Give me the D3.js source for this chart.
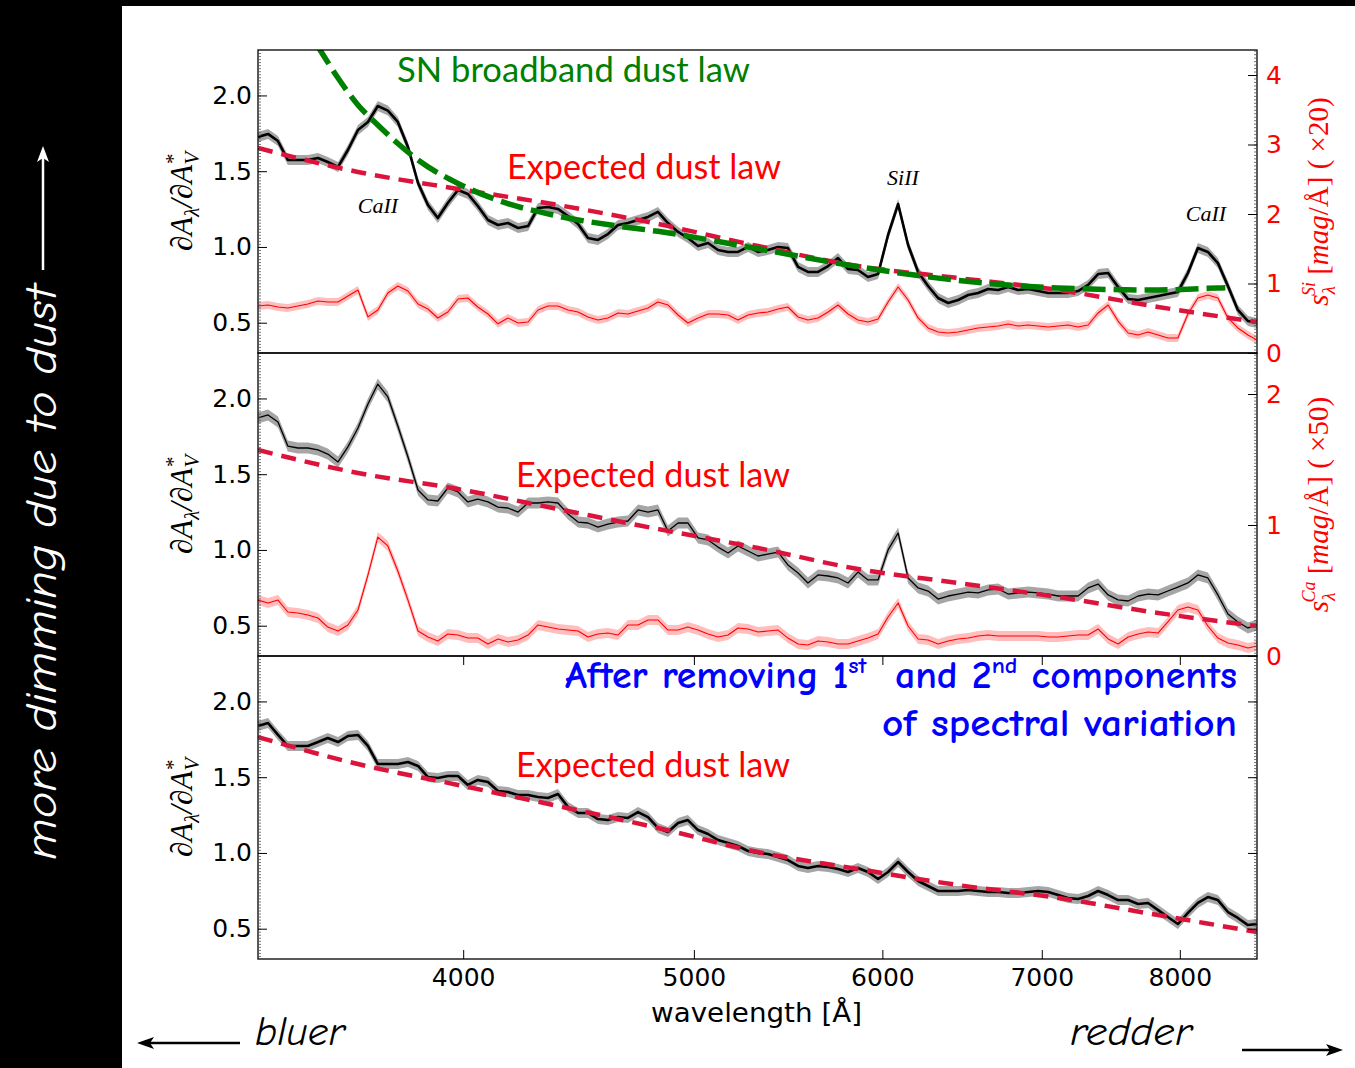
<!DOCTYPE html>
<html><head><meta charset="utf-8">
<script src="https://cdn.jsdelivr.net/npm/d3@7/dist/d3.min.js"></script>
<style>
html,body{margin:0;padding:0;background:#fff;}
svg{display:block;}
text{white-space:pre;}
</style></head>
<body>
<svg id="chart" width="1355" height="1068"></svg>
<script>
// ---------------- DATA ----------------
const wavelengths = [
3280,3312,3344,3376,3409,3442,3476,3509,3544,3578,
3613,3648,3683,3719,3755,3792,3829,3866,3903,3941,
3980,4018,4057,4097,4137,4177,4218,4259,4300,4342,
4384,4427,4470,4513,4557,4601,4646,4691,4737,4783,
4829,4876,4924,4971,5020,5069,5118,5168,5218,5269,
5320,5371,5424,5476,5530,5583,5638,5693,5748,5804,
5860,5917,5975,6033,6092,6151,6211,6271,6332,6394,
6456,6519,6582,6646,6711,6776,6842,6909,6976,7044,
7112,7180,7250,7321,7392,7464,7536,7610,7684,7758,
7834,7908,7985,8063,8141,8220,8300,8381,8462,8545,
8620];

// Panel 1: total dA/dAV and Si component (x20)
const p1Total = [
1.726,1.746,1.699,1.574,1.574,1.574,1.587,1.561,1.528,1.640,
1.772,1.825,1.930,1.900,1.825,1.660,1.422,1.277,1.191,1.290,
1.376,1.350,1.270,1.178,1.145,1.158,1.125,1.138,1.257,1.264,
1.251,1.204,1.151,1.059,1.046,1.085,1.145,1.158,1.178,1.198,
1.231,1.158,1.099,1.059,1.006,1.026,0.980,0.967,0.967,1.000,
0.967,0.980,1.000,0.993,0.868,0.835,0.835,0.874,0.927,0.854,
0.848,0.802,0.821,1.079,1.283,1.013,0.835,0.742,0.663,0.630,
0.650,0.683,0.696,0.722,0.716,0.736,0.716,0.722,0.709,0.696,
0.696,0.696,0.709,0.749,0.821,0.828,0.736,0.656,0.650,0.663,
0.676,0.689,0.703,0.828,0.993,0.967,0.894,0.742,0.584,0.511,
0.498];
const p1Si = [
0.676,0.691,0.662,0.647,0.676,0.705,0.748,0.734,0.734,0.820,
0.906,0.520,0.619,0.863,0.964,0.892,0.705,0.633,0.504,0.590,
0.777,0.791,0.662,0.561,0.420,0.504,0.432,0.446,0.619,0.676,
0.676,0.619,0.590,0.518,0.475,0.504,0.576,0.561,0.604,0.647,
0.734,0.691,0.547,0.432,0.504,0.561,0.561,0.547,0.475,0.547,
0.576,0.590,0.633,0.662,0.518,0.475,0.504,0.590,0.691,0.561,
0.475,0.446,0.489,0.734,0.950,0.763,0.504,0.360,0.302,0.288,
0.302,0.331,0.360,0.374,0.388,0.417,0.388,0.403,0.388,0.374,
0.388,0.403,0.374,0.403,0.576,0.691,0.460,0.288,0.259,0.302,
0.259,0.216,0.216,0.561,0.791,0.835,0.791,0.504,0.360,0.259,
0.187];

// Panel 2: total and Ca component (x50)
const p2Total = [
1.871,1.891,1.845,1.686,1.673,1.673,1.660,1.633,1.581,1.680,
1.805,1.963,2.095,2.010,1.818,1.614,1.396,1.330,1.323,1.409,
1.383,1.317,1.336,1.317,1.283,1.277,1.250,1.310,1.310,1.317,
1.310,1.237,1.184,1.178,1.151,1.171,1.184,1.191,1.264,1.250,
1.264,1.125,1.178,1.178,1.079,1.066,1.019,0.980,1.026,0.993,
0.960,0.973,0.986,0.901,0.848,0.782,0.835,0.828,0.815,0.782,
0.854,0.802,0.802,1.000,1.112,0.815,0.749,0.729,0.676,0.696,
0.709,0.722,0.716,0.736,0.742,0.709,0.716,0.722,0.716,0.709,
0.696,0.696,0.696,0.749,0.775,0.703,0.670,0.663,0.696,0.709,
0.703,0.729,0.755,0.782,0.835,0.815,0.703,0.577,0.524,0.485,
0.505];
const p2Ca = [
0.427,0.405,0.427,0.336,0.328,0.313,0.290,0.221,0.191,0.237,
0.351,0.618,0.908,0.840,0.649,0.427,0.191,0.145,0.115,0.168,
0.160,0.137,0.137,0.092,0.130,0.107,0.122,0.160,0.237,0.221,
0.206,0.198,0.191,0.145,0.168,0.176,0.160,0.237,0.237,0.275,
0.275,0.198,0.198,0.221,0.198,0.168,0.145,0.160,0.214,0.206,
0.183,0.191,0.198,0.137,0.092,0.084,0.115,0.107,0.092,0.092,
0.115,0.137,0.168,0.298,0.405,0.229,0.130,0.122,0.092,0.115,
0.130,0.137,0.153,0.160,0.153,0.153,0.153,0.153,0.153,0.145,
0.145,0.153,0.160,0.160,0.206,0.130,0.092,0.145,0.168,0.183,
0.176,0.260,0.351,0.374,0.351,0.229,0.137,0.099,0.084,0.061,
0.076];

// Panel 3: after removing 1st and 2nd components
const p3Total = [
1.838,1.858,1.779,1.706,1.706,1.706,1.732,1.759,1.732,1.772,
1.779,1.706,1.587,1.587,1.587,1.600,1.574,1.501,1.495,1.508,
1.508,1.449,1.482,1.468,1.409,1.402,1.383,1.383,1.369,1.363,
1.389,1.303,1.264,1.264,1.224,1.217,1.237,1.231,1.270,1.237,
1.165,1.138,1.198,1.217,1.151,1.125,1.085,1.066,1.046,1.013,
1.000,0.993,0.973,0.953,0.914,0.901,0.914,0.907,0.894,0.874,
0.901,0.874,0.828,0.874,0.940,0.874,0.815,0.782,0.749,0.749,
0.749,0.755,0.749,0.742,0.742,0.736,0.736,0.742,0.749,0.742,
0.722,0.703,0.696,0.716,0.749,0.722,0.689,0.689,0.663,0.670,
0.623,0.577,0.531,0.604,0.670,0.709,0.689,0.610,0.571,0.524,
0.531];

// Error band half-widths
const p1TotalErr = 0.033, p1SiErr = 0.058;
const p2TotalErr = 0.036, p2CaErr = 0.038;
const p3TotalErr = 0.033;

// Expected dust law (dashed crimson)
const lawWave = [3280,3613,3980,4384,4829,5320,5860,6456,7112,7834,8620];
const p1Law = [1.653,1.495,1.383,1.277,1.152,1.006,0.874,0.795,0.716,0.604,0.505];
const p2Law = [1.660,1.508,1.402,1.270,1.138,1.013,0.874,0.782,0.689,0.584,0.498];
const p3Law = [1.765,1.587,1.449,1.310,1.165,1.006,0.894,0.788,0.703,0.590,0.478];

// SN broadband dust law (dashed green, panel 1)
const snWave = [3416,3449,3483,3544,3613,3683,3755,3829,3980,4137,4384,4646,4829,5320,5860,6456,7112,7834,8300,8360];
const snLaw  = [2.51,2.406,2.300,2.115,1.937,1.805,1.683,1.574,1.419,1.308,1.204,1.138,1.103,0.988,0.870,0.779,0.729,0.716,0.729,0.730];

// Ticks
const xTicks = [4000,5000,6000,7000,8000];
const yTicks = [0.5,1.0,1.5,2.0];
const siTicks = [0,1,2,3,4];
const caTicks = [0,1,2];

// ---------------- DRAW ----------------
const svg = d3.select("#chart");
svg.append("rect").attr("width",1355).attr("height",1068).attr("fill","#fff");
svg.append("rect").attr("x",0).attr("y",0).attr("width",1355).attr("height",6).attr("fill","#000");
svg.append("rect").attr("x",0).attr("y",0).attr("width",122).attr("height",1068).attr("fill","#000");

const L = 258, R = 1257, PH = 303, tops = [50,353,656];
const x = d3.scaleLog().domain([3280,8620]).range([L,R]);
const defs = svg.append("defs");

function bandPath(g, vals, y, err, fill){
  const pts = d3.zip(wavelengths, vals);
  g.append("path").datum(pts)
    .attr("d", d3.area().x(d=>x(d[0])).y0(d=>y(d[1]-err)).y1(d=>y(d[1]+err)))
    .attr("fill", fill).attr("stroke","none");
}
function linePath(g, vals, y, stroke, w){
  const pts = d3.zip(wavelengths, vals);
  g.append("path").datum(pts)
    .attr("d", d3.line().x(d=>x(d[0])).y(d=>y(d[1])))
    .attr("fill","none").attr("stroke",stroke).attr("stroke-width",w)
    .attr("stroke-linejoin","round");
}

function drawPanel(i, o){
  const top = tops[i];
  const y = d3.scaleLinear().domain([0.3,2.3]).range([top+PH, top]);
  defs.append("clipPath").attr("id","clip"+i).append("rect")
    .attr("x",L).attr("y",top).attr("width",R-L).attr("height",PH);
  const g = svg.append("g");
  const plot = g.append("g").attr("clip-path",`url(#clip${i})`);
  let y2 = null;
  if (o.sec){
    y2 = d3.scaleLinear().domain([0,o.sec.max]).range([top+PH, top]);
    bandPath(plot, o.sec.vals, y2, o.sec.err, "#ffbdbd");
    linePath(plot, o.sec.vals, y2, "#ff0000", 1.1);
  }
  bandPath(plot, o.total, y, o.err, "#a6a6a6");
  linePath(plot, o.total, y, "#000", o.lw);
  plot.append("path").datum(d3.zip(lawWave, o.law))
    .attr("d", d3.line().x(d=>x(d[0])).y(d=>y(d[1])).curve(d3.curveMonotoneX))
    .attr("fill","none").attr("stroke","#dc143c").attr("stroke-width",4.5)
    .attr("stroke-dasharray","15,9");
  if (o.sn){
    plot.append("path").datum(d3.zip(snWave, snLaw))
      .attr("d", d3.line().x(d=>x(d[0])).y(d=>y(d[1])).curve(d3.curveMonotoneX))
      .attr("fill","none").attr("stroke","#008000").attr("stroke-width",5.5)
      .attr("stroke-dasharray","23,8");
  }
  // frame
  g.append("rect").attr("x",L).attr("y",top).attr("width",R-L).attr("height",PH)
    .attr("fill","none").attr("stroke","#000").attr("stroke-width",1.3);

  // left minor ticks
  const minorL = d3.range(0.32,2.3,0.02);
  const ml = g.append("g").attr("transform",`translate(${L},0)`)
    .call(d3.axisLeft(y).tickValues(minorL).tickSize(-3).tickFormat(""));
  ml.select(".domain").remove();
  ml.selectAll("line").attr("stroke","#555").attr("stroke-width",0.8);
  // left major axis
  const ax = g.append("g").attr("transform",`translate(${L},0)`)
    .call(d3.axisLeft(y).tickValues(yTicks).tickSize(-9).tickPadding(6).tickFormat(d3.format(".1f")));
  ax.select(".domain").remove();
  ax.selectAll("text").attr("font-family","DejaVu Sans").attr("font-size",25).attr("fill","#000");
  ax.selectAll("line").attr("stroke","#000").attr("stroke-width",1);

  // right axis
  if (o.sec){
    const step = o.sec.max > 3 ? 0.05 : 0.025;
    const mr = g.append("g").attr("transform",`translate(${R},0)`)
      .call(d3.axisRight(y2).tickValues(d3.range(step, o.sec.max, step)).tickSize(-3).tickFormat(""));
    mr.select(".domain").remove();
    mr.selectAll("line").attr("stroke","#555").attr("stroke-width",0.8);
    const ar = g.append("g").attr("transform",`translate(${R},0)`)
      .call(d3.axisRight(y2).tickValues(o.sec.ticks).tickSize(-9).tickPadding(9).tickFormat(d3.format("d")));
    ar.select(".domain").remove();
    ar.selectAll("text").attr("font-family","DejaVu Sans").attr("font-size",25).attr("fill","#ff0000");
    ar.selectAll("line").attr("stroke","#000");
  } else {
    const mr = g.append("g").attr("transform",`translate(${R},0)`)
      .call(d3.axisRight(y).tickValues(minorL).tickSize(-3).tickFormat(""));
    mr.select(".domain").remove();
    mr.selectAll("line").attr("stroke","#555").attr("stroke-width",0.8);
    const ar = g.append("g").attr("transform",`translate(${R},0)`)
      .call(d3.axisRight(y).tickValues(yTicks).tickSize(-9).tickFormat(""));
    ar.select(".domain").remove();
    ar.selectAll("line").attr("stroke","#000");
  }

  // y label (left)
  const cy = top + PH/2;
  const lab = g.append("text").attr("transform",`translate(192,${cy}) rotate(-90)`)
    .attr("text-anchor","middle").attr("font-family","Liberation Serif, DejaVu Serif, serif")
    .attr("font-style","italic").attr("font-size",31).attr("fill","#000");
  lab.append("tspan").text("\u2202A");
  lab.append("tspan").attr("font-size",21).attr("dy",7).text("\u03bb");
  lab.append("tspan").attr("dy",-7).text("/\u2202A");
  lab.append("tspan").attr("font-size",21).attr("dy",7).text("V");
  lab.append("tspan").attr("font-size",21).attr("dx",-12).attr("dy",-19).attr("font-style","normal").text("*");
  return {y, y2, g};
}

const P1 = drawPanel(0, {total:p1Total, err:p1TotalErr, lw:2.6, law:p1Law, sn:true,
  sec:{vals:p1Si, err:p1SiErr, max:4.36, ticks:siTicks}});
const P2 = drawPanel(1, {total:p2Total, err:p2TotalErr, lw:1.3, law:p2Law,
  sec:{vals:p2Ca, err:p2CaErr, max:2.313, ticks:caTicks}});
const P3 = drawPanel(2, {total:p3Total, err:p3TotalErr, lw:2.6, law:p3Law});

// x axis on panel 3
const xb = svg.append("g").attr("transform",`translate(0,${tops[2]+PH})`)
  .call(d3.axisBottom(x).tickValues(xTicks).tickSize(-9).tickPadding(9).tickFormat(d3.format("d")));
xb.select(".domain").remove();
xb.selectAll("text").attr("font-family","DejaVu Sans").attr("font-size",25).attr("fill","#000");
xb.selectAll("line").attr("stroke","#000");
const xt = svg.append("g").attr("transform",`translate(0,${tops[2]})`)
  .call(d3.axisTop(x).tickValues(xTicks).tickSize(-9).tickFormat(""));
xt.select(".domain").remove();
xt.selectAll("line").attr("stroke","#000");

svg.append("text").attr("x",651).attr("y",1022)
  .attr("font-family","DejaVu Sans").attr("font-size",26).attr("fill","#000")
  .attr("textLength",211).attr("lengthAdjust","spacingAndGlyphs")
  .text("wavelength [\u00c5]");

// right labels
function rightLabel(cy, sup, factor){
  const t = svg.append("text").attr("transform",`translate(1328,${cy}) rotate(-90)`)
    .attr("text-anchor","middle").attr("font-family","Liberation Serif, DejaVu Serif, serif")
    .attr("font-size",29).attr("fill","#ff0000");
  t.append("tspan").attr("font-style","italic").text("s");
  t.append("tspan").attr("font-style","italic").attr("font-size",19).attr("dy",7).text("\u03bb");
  t.append("tspan").attr("font-style","italic").attr("font-size",18).attr("dx",-10).attr("dy",-20).text(sup);
  t.append("tspan").attr("dy",13).text(" [");
  t.append("tspan").attr("font-style","italic").text("mag");
  t.append("tspan").text("/\u00c5] ( \u00d7" + factor + ")");
}
rightLabel(tops[0]+PH/2, "Si", 20);
rightLabel(tops[1]+PH/2, "Ca", 50);

// annotations
const calib = "Lato, 'Open Sans', sans-serif";
svg.append("text").attr("x",397).attr("y",82).attr("font-family",calib).attr("font-size",34)
  .attr("fill","#008000").attr("textLength",353).attr("lengthAdjust","spacingAndGlyphs").text("SN broadband dust law");
[[507,179],[516,487],[516,777]].forEach(p=>{
  svg.append("text").attr("x",p[0]).attr("y",p[1]).attr("font-family",calib).attr("font-size",34)
    .attr("fill","#ff0000").attr("textLength",274).attr("lengthAdjust","spacingAndGlyphs").text("Expected dust law");
});
[["CaII",378,213],["SiII",903,185],["CaII",1206,221]].forEach(a=>{
  svg.append("text").attr("x",a[1]).attr("y",a[2]).attr("text-anchor","middle")
    .attr("font-family","Liberation Serif, DejaVu Serif, serif").attr("font-style","italic")
    .attr("font-size",22).attr("fill","#000").text(a[0]);
});

// blue annotation
const comic = "'Comic Sans MS', 'Comic Neue', 'Open Sans', sans-serif";
const b1 = svg.append("text").attr("x",1237).attr("y",688).attr("text-anchor","end")
  .attr("font-family",comic).attr("font-size",38).attr("font-weight",600).attr("fill","#0000ff")
  .attr("textLength",672).attr("lengthAdjust","spacingAndGlyphs");
b1.append("tspan").text("After removing 1");
b1.append("tspan").attr("font-size",23).attr("dy",-15).text("st");
b1.append("tspan").attr("dy",15).text("  and 2");
b1.append("tspan").attr("font-size",23).attr("dy",-15).text("nd");
b1.append("tspan").attr("dy",15).text(" components");
svg.append("text").attr("x",1237).attr("y",736).attr("text-anchor","end")
  .attr("font-family",comic).attr("font-size",38).attr("font-weight",600).attr("fill","#0000ff")
  .attr("textLength",355).attr("lengthAdjust","spacingAndGlyphs")
  .text("of spectral variation");

// left strip text + arrow
svg.append("text").attr("transform","translate(56,860) rotate(-90)")
  .attr("font-family",comic).attr("font-style","italic").attr("font-size",44).attr("fill","#fff")
  .attr("textLength",575).attr("lengthAdjust","spacingAndGlyphs").text("more dimming due to dust");
svg.append("line").attr("x1",43).attr("y1",270).attr("x2",43).attr("y2",158).attr("stroke","#fff").attr("stroke-width",2.5);
svg.append("path").attr("d","M43,146 L37,162 L43,158 L49,162 Z").attr("fill","#fff");

// bottom bluer / redder
svg.append("text").attr("x",255).attr("y",1045).attr("font-family",comic).attr("font-style","italic")
  .attr("font-size",40).attr("fill","#000").attr("textLength",90).attr("lengthAdjust","spacingAndGlyphs").text("bluer");
svg.append("text").attr("x",1070).attr("y",1045).attr("font-family",comic).attr("font-style","italic")
  .attr("font-size",40).attr("fill","#000").attr("textLength",122).attr("lengthAdjust","spacingAndGlyphs").text("redder");
svg.append("line").attr("x1",240).attr("y1",1043).attr("x2",150).attr("y2",1043).attr("stroke","#000").attr("stroke-width",2.5);
svg.append("path").attr("d","M137,1043 L154,1037 L150,1043 L154,1049 Z").attr("fill","#000");
svg.append("line").attr("x1",1242).attr("y1",1050).attr("x2",1330).attr("y2",1050).attr("stroke","#000").attr("stroke-width",2.5);
svg.append("path").attr("d","M1343,1050 L1326,1044 L1330,1050 L1326,1056 Z").attr("fill","#000");
</script>
</body></html>
